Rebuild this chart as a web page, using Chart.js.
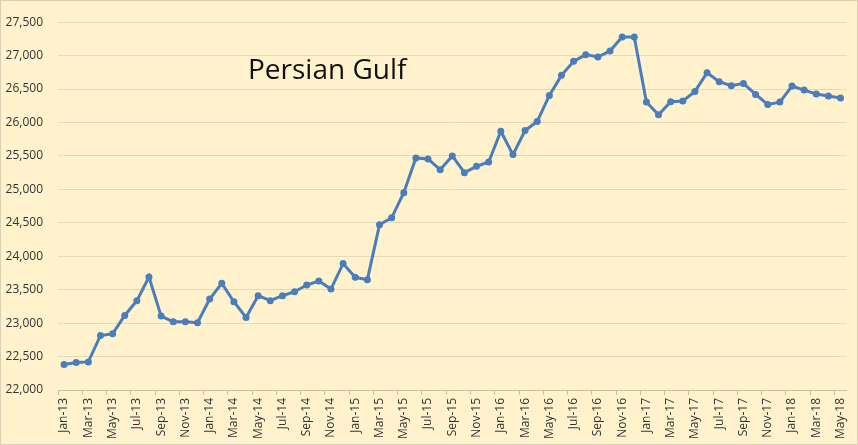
<!DOCTYPE html>
<html>
<head>
<meta charset="utf-8">
<script src="https://cdn.jsdelivr.net/npm/chart.js@4.4.1/dist/chart.umd.min.js"></script>
<style>
    html, body { margin: 0; padding: 0; background: #FFF2CC; }
    #wrap { width: 858px; height: 445px; position: relative; }
</style>
</head>
<body>
<div id="wrap"><canvas id="gulfChart"></canvas></div>
<script>
// Monthly crude production, Persian Gulf (kb/d)
const months = [
    'Jan-13', 'Feb-13', 'Mar-13', 'Apr-13', 'May-13', 'Jun-13', 'Jul-13', 'Aug-13', 'Sep-13', 'Oct-13', 'Nov-13', 'Dec-13',
    'Jan-14', 'Feb-14', 'Mar-14', 'Apr-14', 'May-14', 'Jun-14', 'Jul-14', 'Aug-14', 'Sep-14', 'Oct-14', 'Nov-14', 'Dec-14',
    'Jan-15', 'Feb-15', 'Mar-15', 'Apr-15', 'May-15', 'Jun-15', 'Jul-15', 'Aug-15', 'Sep-15', 'Oct-15', 'Nov-15', 'Dec-15',
    'Jan-16', 'Feb-16', 'Mar-16', 'Apr-16', 'May-16', 'Jun-16', 'Jul-16', 'Aug-16', 'Sep-16', 'Oct-16', 'Nov-16', 'Dec-16',
    'Jan-17', 'Feb-17', 'Mar-17', 'Apr-17', 'May-17', 'Jun-17', 'Jul-17', 'Aug-17', 'Sep-17', 'Oct-17', 'Nov-17', 'Dec-17',
    'Jan-18', 'Feb-18', 'Mar-18', 'Apr-18', 'May-18'
];

const production = [
    22380, 22410, 22420, 22815, 22840, 23115, 23335, 23690, 23105, 23020, 23020, 23005,
    23360, 23595, 23320, 23085, 23410, 23335, 23410, 23470, 23570, 23630, 23510, 23890,
    23685, 23650, 24470, 24575, 24950, 25470, 25455, 25295, 25500, 25250, 25345, 25410,
    25870, 25520, 25880, 26015, 26405, 26705, 26915, 27015, 26980, 27070, 27280, 27280,
    26305, 26115, 26310, 26320, 26465, 26745, 26610, 26550, 26585, 26420, 26270, 26305,
    26545, 26485, 26425, 26395, 26365
];

const chartTitle = 'Persian Gulf';
const yMin = 22000;
const yMax = 27500;
const yStep = 500;

document.addEventListener('DOMContentLoaded', () => {
    const ctx = document.getElementById('gulfChart').getContext('2d');
    const lineColor = '#4A7EBB';
    const fontFamily = '"Open Sans", "Noto Sans", sans-serif';

    // fondo crema, borde fino y el titulo dentro del area
    const backdrop = {
        id: 'backdrop',
        beforeDraw(chart) {
            const c = chart.ctx;
            c.save();
            c.fillStyle = '#FFF2CC';
            c.fillRect(0, 0, chart.width, chart.height);
            c.strokeStyle = '#D9D0B4';
            c.lineWidth = 1;
            c.strokeRect(0.5, 0.5, chart.width - 1, chart.height - 1);
            c.restore();
        },
        afterDraw(chart) {
            const c = chart.ctx;
            c.save();
            c.fillStyle = '#111';
            c.font = '28px ' + fontFamily;
            c.textBaseline = 'alphabetic';
            c.fillText(chartTitle, 248, 79);
            c.restore();
        }
    };

    new Chart(ctx, {
        type: 'line',
        data: {
            labels: months,
            datasets: [{
                label: chartTitle,
                data: production,
                borderColor: lineColor,
                backgroundColor: lineColor,
                borderWidth: 3,
                tension: 0,
                pointRadius: 3.5,
                pointBorderWidth: 0,
                pointBackgroundColor: lineColor
            }]
        },
        options: {
            responsive: true,
            maintainAspectRatio: false,
            animation: false,
            layout: { padding: { top: 12, right: 11, left: 0, bottom: 0 } },
            plugins: {
                legend: { display: false },
                tooltip: { enabled: false }
            },
            scales: {
                x: {
                    type: 'category',
                    offset: true,
                    afterFit: (scale) => { scale.height = 55; },
                    grid: {
                        offset: true,
                        drawOnChartArea: false,
                        tickLength: 5,
                        color: (c) => (c.index % 2 === 0 ? '#C9C0A4' : 'rgba(0,0,0,0)')
                    },
                    border: { color: '#C9C0A4' },
                    ticks: {
                        autoSkip: false,
                        maxRotation: 90,
                        minRotation: 90,
                        padding: 3,
                        color: '#333',
                        font: { family: fontFamily, size: 12 },
                        callback: (v, i) => (i % 2 === 0 ? months[i] : '')
                    }
                },
                y: {
                    min: yMin,
                    max: yMax,
                    afterFit: (scale) => { scale.width = 58; },
                    grid: { color: '#E3D9BB', drawTicks: false },
                    border: { display: false },
                    ticks: {
                        stepSize: yStep,
                        padding: 15,
                        color: '#333',
                        font: { family: fontFamily, size: 12 },
                        callback: (v) => Number(v).toLocaleString('en-US')
                    }
                }
            }
        },
        plugins: [backdrop]
    });
});
</script>
</body>
</html>
